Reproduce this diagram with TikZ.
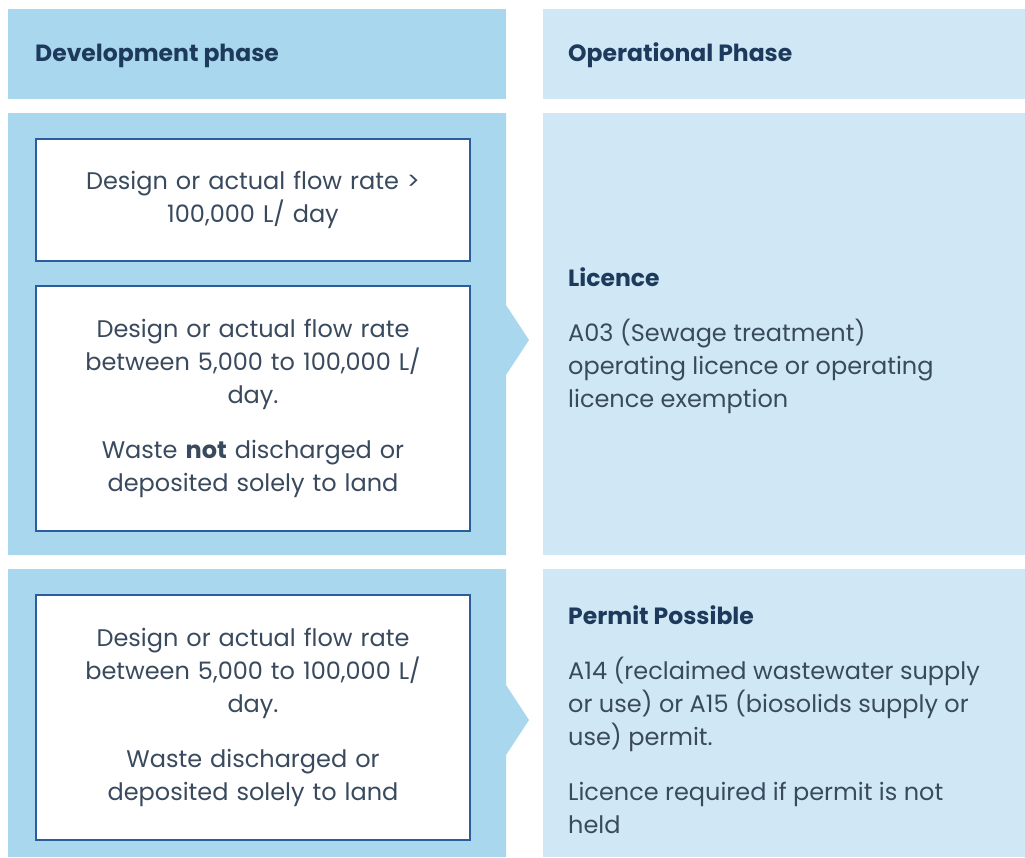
\documentclass[tikz,border=0pt]{standalone}
\usepackage{fontspec}
\setmainfont{Poppins}
\definecolor{devblue}{HTML}{A9D7ED}
\definecolor{opblue}{HTML}{D0E8F5}
\definecolor{boxline}{HTML}{2B5C9E}
\definecolor{headtext}{HTML}{1D3A5C}
\definecolor{bodytext}{HTML}{3A4A5E}
\begin{document}
\begin{tikzpicture}[x=1pt,y=-1pt,
  devpanel/.style={fill=devblue},
  oppanel/.style={fill=opblue},
  inbox/.style={draw=boxline, line width=2pt, fill=white, minimum width=434pt,
    text width=426pt, align=center, inner sep=0pt, text=bodytext,
    font=\fontsize{24}{33}\selectfont},
  headlabel/.style={anchor=base west, inner sep=0pt, text=headtext,
    font=\fontsize{23.5}{24}\selectfont\bfseries},
  bodylabel/.style={anchor=base west, inner sep=0pt, text=bodytext, align=left,
    font=\fontsize{24}{33}\selectfont}]
\useasboundingbox (0,0) rectangle (1025,857);
\fill[white] (0,0) rectangle (1025,857);

% column headers
\fill[devpanel] (8,9) rectangle (506,99);
\fill[oppanel] (543,9) rectangle (1025,99);
\node[headlabel] (devhead) at (35,61) {Development phase};
\node[headlabel] (ophead) at (568,61) {Operational Phase};

% first row: chevron panel and licence panel
\fill[devpanel] (8,113) -- (506,113) -- (506,305) -- (529,340) -- (506,375)
  -- (506,555) -- (8,555) -- cycle;
\fill[oppanel] (543,113) rectangle (1025,555);

% second row: chevron panel and permit panel
\fill[devpanel] (8,569) -- (506,569) -- (506,685) -- (529,720) -- (506,755)
  -- (506,857) -- (8,857) -- cycle;
\fill[oppanel] (543,569) rectangle (1025,857);

% development conditions
\node[inbox, minimum height=122pt] (big) at (253,200)
  {Design or actual flow rate >\\100,000 L/ day};
\node[inbox, minimum height=245pt] (mid) at (253,408.5)
  {Design or actual flow rate\\between 5,000 to 100,000 L/\\day.\\[22pt]
   Waste \textbf{not} discharged or\\deposited solely to land};
\node[inbox, minimum height=245pt] (land) at (253,717.5)
  {Design or actual flow rate\\between 5,000 to 100,000 L/\\day.\\[22pt]
   Waste discharged or\\deposited solely to land};

% operational requirements (multi-line labels sit on their last baseline)
\node[headlabel] (lichead) at (568,286) {Licence};
\node[bodylabel] (licbody) at (568,407)
  {A03 (Sewage treatment)\\operating licence or operating\\licence exemption};
\node[headlabel] (perhead) at (568,624) {Permit Possible};
\node[bodylabel] (perbody) at (568,745)
  {A14 (reclaimed wastewater supply\\or use) or A15 (biosolids supply or\\use) permit.};
\node[bodylabel] (pernote) at (568,833)
  {Licence required if permit is not\\held};
\end{tikzpicture}
\end{document}
